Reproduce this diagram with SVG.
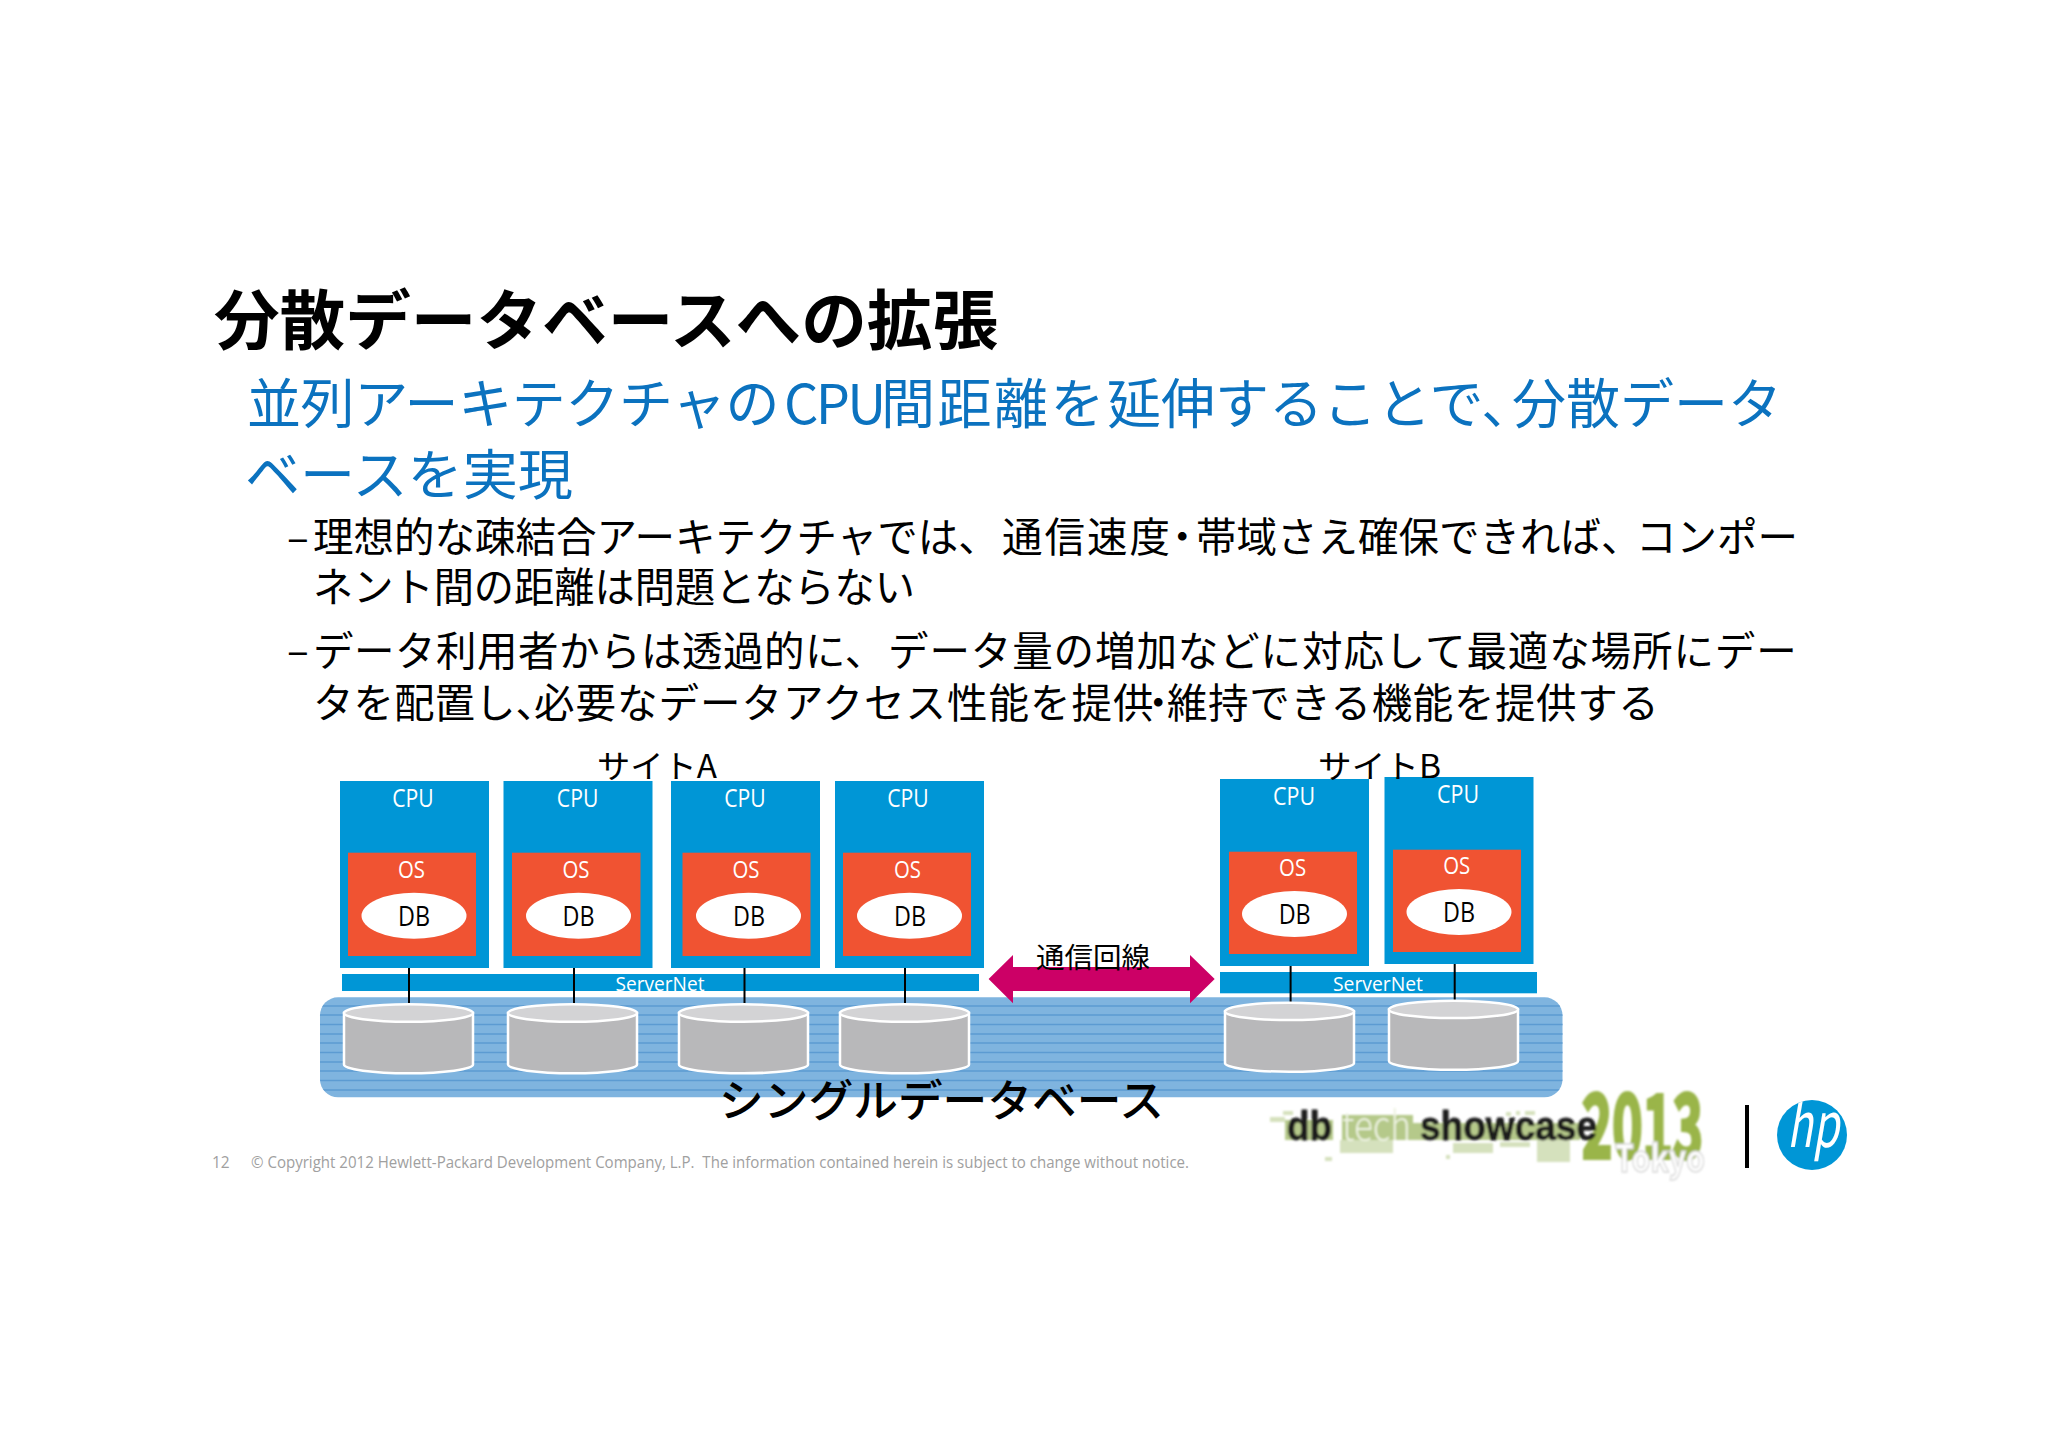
<svg xmlns="http://www.w3.org/2000/svg" width="2048" height="1448" viewBox="0 0 2048 1448">
<style>
text{font-family:"Noto Sans CJK JP","Noto Sans",sans-serif}
.title{font-size:65px;font-weight:700;fill:#000}
.sub{font-size:54px;fill:#0b72bf}
.body{font-size:40.5px;fill:#000}
.site{font-size:32px;fill:#000}
.lat{font-family:"Open Sans","Liberation Sans",sans-serif;text-anchor:middle}
.cpu{fill:#0096d6}
.os{fill:#f05332}
.db{fill:#fff}
.t-cpu{font-size:25px;fill:#fff}
.t-os{font-size:24px;fill:#fff}
.t-db{font-size:27px;fill:#000}
.bar{fill:#0096d6}
.t-net{font-size:20.5px;fill:#fff}
.side{fill:#b8b8ba;stroke:#fff;stroke-width:2.5}
.top{fill:#d3d3d5;stroke:#fff;stroke-width:2.5}
.link{stroke:#000;stroke-width:2;fill:none}
.stripe{stroke:#5c9bd2;stroke-width:1.4}
.foot{font-family:"Open Sans","Liberation Sans",sans-serif;font-size:15.5px;fill:#a0a0a0}
.sp1{fill:#b5c98a}
.sp2{fill:#d5e1bd}
.logo{font-family:"Liberation Sans",sans-serif;font-weight:700;fill:#1c1c1c;stroke:#1c1c1c;stroke-width:.8}
</style>
<defs>
<clipPath id="bandclip"><rect x="320" y="997.3" width="1242.5" height="100" rx="18"/></clipPath>
<clipPath id="hpclip"><circle cx="1812" cy="1135" r="35"/></clipPath>
<filter id="soft" x="-5%" y="-10%" width="110%" height="120%"><feGaussianBlur stdDeviation="0.9"/></filter>
</defs>
<rect width="2048" height="1448" fill="#fff"/>

<g id="heading">
<text class="title" x="214" y="344" textLength="784" lengthAdjust="spacingAndGlyphs">分散データベースへの拡張</text>
<text class="sub" y="424"><tspan x="247" letter-spacing="-0.4">並列アーキテクチャの</tspan><tspan x="784" letter-spacing="-2.7">CPU</tspan><tspan x="881" letter-spacing="2.500">間距離を</tspan><tspan x="1107">延伸することで、</tspan><tspan x="1512">分散データ</tspan></text>
<text class="sub" x="245" y="495" textLength="328" lengthAdjust="spacingAndGlyphs">ベースを実現</text>
<text class="body" x="287" y="552">–</text>
<text class="body" y="552"><tspan x="313">理想的な疎結合アーキテクチャでは、</tspan><tspan x="1002" letter-spacing="2">通信速度</tspan><tspan x="1162">・</tspan><tspan x="1196">帯域さえ確保できれば、</tspan><tspan x="1636">コンポー</tspan></text>
<text class="body" x="313" y="602" textLength="602" lengthAdjust="spacingAndGlyphs">ネント間の距離は問題とならない</text>
<text class="body" x="287" y="665">–</text>
<text class="body" y="666"><tspan x="313" letter-spacing="0.500">データ利用者からは透過的に、</tspan><tspan x="888" letter-spacing="0.900">データ量の増加などに対応して最適な場所にデー</tspan></text>
<text class="body" y="718"><tspan x="313">タを配置し、</tspan><tspan x="534" letter-spacing="1">必要なデータアクセス性能を提供</tspan><tspan x="1138">・</tspan><tspan x="1167" letter-spacing="0.600">維持できる機能を提供する</tspan></text>
</g>

<g id="single-database-band">
<rect x="320" y="997.3" width="1242.5" height="100" rx="18" fill="#7fb4df"/>
<g clip-path="url(#bandclip)">
<path class="stripe" d="M320 1006H1563M320 1015H1563M320 1024.5H1563M320 1034H1563M320 1043H1563M320 1052.500H1563M320 1062H1563M320 1071H1563M320 1080.500H1563M320 1090H1563"/>
</g>
</g>

<g id="servernet-a"><rect class="bar" x="342" y="974" width="637" height="17"/><text class="lat t-net" x="660" y="990.5" textLength="89" lengthAdjust="spacingAndGlyphs">ServerNet</text></g>
<g id="servernet-b"><rect class="bar" x="1220" y="972" width="317" height="21.300"/><text class="lat t-net" x="1378" y="990.5" textLength="90" lengthAdjust="spacingAndGlyphs">ServerNet</text></g>

<g id="connectors">
<path class="link" d="M409 967V1005M574 967V1005M744.500 967V1005M905 967V1005M1290.600 966V1003M1454.700 964V1001"/>
<polygon id="comm-line" fill="#cc0066" points="988.600,979 1013,955 1013,967 1190,967 1190,955 1214.700,979 1190,1003.300 1190,991 1013,991 1013,1003.300"/>
</g>

<g id="cyl-a1"><path class="side" d="M344 1013V1064.600A64.500 8.700 0 0 0 473 1064.600V1013Z"/><ellipse class="top" cx="408.500" cy="1013" rx="64.500" ry="8.700"/></g>
<g id="cyl-a2"><path class="side" d="M508 1013V1064.600A64.500 8.700 0 0 0 637 1064.600V1013Z"/><ellipse class="top" cx="572.500" cy="1013" rx="64.500" ry="8.700"/></g>
<g id="cyl-a3"><path class="side" d="M679 1013V1064.600A64.500 8.700 0 0 0 808 1064.600V1013Z"/><ellipse class="top" cx="743.500" cy="1013" rx="64.500" ry="8.700"/></g>
<g id="cyl-a4"><path class="side" d="M840 1013V1064.600A64.500 8.700 0 0 0 969 1064.600V1013Z"/><ellipse class="top" cx="904.500" cy="1013" rx="64.500" ry="8.700"/></g>
<g id="cyl-b1"><path class="side" d="M1225 1011.400V1063A64.500 8.700 0 0 0 1354 1063V1011.400Z"/><ellipse class="top" cx="1289.500" cy="1011.400" rx="64.500" ry="8.700"/></g>
<g id="cyl-b2"><path class="side" d="M1389 1009.400V1061A64.500 8.700 0 0 0 1518 1061V1009.400Z"/><ellipse class="top" cx="1453.500" cy="1009.400" rx="64.500" ry="8.700"/></g>

<g id="node-a1"><rect class="cpu" x="340" y="781" width="149" height="187"/><text class="lat t-cpu" x="413" y="807" textLength="41.500" lengthAdjust="spacingAndGlyphs">CPU</text><rect class="os" x="348" y="852.700" width="128" height="103.300"/><text class="lat t-os" x="411.500" y="878" textLength="27" lengthAdjust="spacingAndGlyphs">OS</text><ellipse class="db" cx="414" cy="915.700" rx="52.500" ry="23"/><text class="lat t-db" x="414" y="925.500" textLength="32" lengthAdjust="spacingAndGlyphs">DB</text></g>
<g id="node-a2"><rect class="cpu" x="503.500" y="781" width="149" height="187"/><text class="lat t-cpu" x="577.600" y="807" textLength="41.500" lengthAdjust="spacingAndGlyphs">CPU</text><rect class="os" x="512" y="852.700" width="128.500" height="103.300"/><text class="lat t-os" x="576" y="878" textLength="27" lengthAdjust="spacingAndGlyphs">OS</text><ellipse class="db" cx="578.500" cy="915.700" rx="52.500" ry="23"/><text class="lat t-db" x="578.500" y="925.500" textLength="32" lengthAdjust="spacingAndGlyphs">DB</text></g>
<g id="node-a3"><rect class="cpu" x="671" y="781" width="149" height="187"/><text class="lat t-cpu" x="745" y="807" textLength="41.500" lengthAdjust="spacingAndGlyphs">CPU</text><rect class="os" x="682.500" y="852.700" width="128" height="103.300"/><text class="lat t-os" x="746" y="878" textLength="27" lengthAdjust="spacingAndGlyphs">OS</text><ellipse class="db" cx="748.500" cy="915.700" rx="52.500" ry="23"/><text class="lat t-db" x="749" y="925.500" textLength="32" lengthAdjust="spacingAndGlyphs">DB</text></g>
<g id="node-a4"><rect class="cpu" x="835" y="781" width="149" height="187"/><text class="lat t-cpu" x="908" y="807" textLength="41.500" lengthAdjust="spacingAndGlyphs">CPU</text><rect class="os" x="843" y="852.700" width="128" height="103.300"/><text class="lat t-os" x="907.500" y="878" textLength="27" lengthAdjust="spacingAndGlyphs">OS</text><ellipse class="db" cx="909.500" cy="915.700" rx="52.500" ry="23"/><text class="lat t-db" x="910" y="925.500" textLength="32" lengthAdjust="spacingAndGlyphs">DB</text></g>
<g id="node-b1"><rect class="cpu" x="1220" y="779" width="149" height="187"/><text class="lat t-cpu" x="1294" y="805" textLength="42" lengthAdjust="spacingAndGlyphs">CPU</text><rect class="os" x="1229" y="851.700" width="128" height="102.300"/><text class="lat t-os" x="1292.600" y="875.500" textLength="27" lengthAdjust="spacingAndGlyphs">OS</text><ellipse class="db" cx="1294.500" cy="914" rx="52.500" ry="23"/><text class="lat t-db" x="1294.700" y="923.500" textLength="32" lengthAdjust="spacingAndGlyphs">DB</text></g>
<g id="node-b2"><rect class="cpu" x="1384.500" y="777" width="149" height="187"/><text class="lat t-cpu" x="1458" y="803" textLength="42" lengthAdjust="spacingAndGlyphs">CPU</text><rect class="os" x="1393" y="849.700" width="128" height="102.300"/><text class="lat t-os" x="1456.700" y="873.500" textLength="27" lengthAdjust="spacingAndGlyphs">OS</text><ellipse class="db" cx="1459" cy="912" rx="52.500" ry="23"/><text class="lat t-db" x="1459" y="921.500" textLength="32" lengthAdjust="spacingAndGlyphs">DB</text></g>

<g id="labels">
<text class="site" x="597" y="778" textLength="120" lengthAdjust="spacingAndGlyphs">サイトA</text>
<text class="site" x="1318" y="778" textLength="123" lengthAdjust="spacingAndGlyphs">サイトB</text>
<text x="1036" y="968" font-size="28.500" fill="#000" textLength="114" lengthAdjust="spacingAndGlyphs">通信回線</text>
<text x="719" y="1117" font-size="44.500" font-weight="500" fill="#000" textLength="445" lengthAdjust="spacingAndGlyphs">シングルデータベース</text>
</g>

<g id="footer">
<text class="foot" x="212" y="1168">12</text>
<text class="foot" x="251" y="1168" textLength="938" lengthAdjust="spacingAndGlyphs">© Copyright 2012 Hewlett-Packard Development Company, L.P.&#160;&#160;The information contained herein is subject to change without notice.</text>
</g>

<g id="logo-showcase" filter="url(#soft)">
<path class="sp2" d="M1270 1117h15v5h-15zM1283 1111h10v4h-10zM1325 1157h7v4h-7zM1340 1140h53v13h-53zM1453 1143h40v10h-40zM1537 1140h33v22h-33zM1506 1112h5v4h-5zM1516 1111h4v4h-4zM1525 1111h10v4h-10zM1446 1155h4v4h-4zM1500 1142h30v5h-30z"/>
<path class="sp1" d="M1285 1120h48v20h-48zM1342 1115h71v25h-71zM1413 1123h167v17h-167z"/>
<text x="1582" y="1158" font-family="Liberation Sans" font-weight="700" font-size="88" fill="#9ab54a" stroke="#9ab54a" stroke-width="4" textLength="121" lengthAdjust="spacingAndGlyphs">2013</text>
<text class="logo" x="1287" y="1140" font-size="40" textLength="45" lengthAdjust="spacingAndGlyphs">db</text>
<text x="1342" y="1140" font-family="Lato" font-weight="300" font-size="40" fill="#eef3e2" textLength="69" lengthAdjust="spacingAndGlyphs">tech</text>
<text class="logo" x="1420" y="1140" font-size="40" textLength="177" lengthAdjust="spacingAndGlyphs">showcase</text>
<text x="1615" y="1172" font-family="Liberation Sans" font-weight="700" font-size="38" fill="#fff" stroke="#d8d8d8" stroke-width="1.500" textLength="90" lengthAdjust="spacingAndGlyphs">Tokyo</text>
</g>
<rect id="logo-divider" x="1745" y="1105" width="4" height="63" fill="#000"/>
<g id="logo-hp">
<circle cx="1812" cy="1135" r="35" fill="#0096d6"/>
<text x="1813" y="1147" clip-path="url(#hpclip)" font-family="Lato,'Liberation Sans',sans-serif" font-style="italic" font-weight="400" font-size="62" fill="#fff" text-anchor="middle" textLength="52" lengthAdjust="spacingAndGlyphs">hp</text>
</g>
</svg>
